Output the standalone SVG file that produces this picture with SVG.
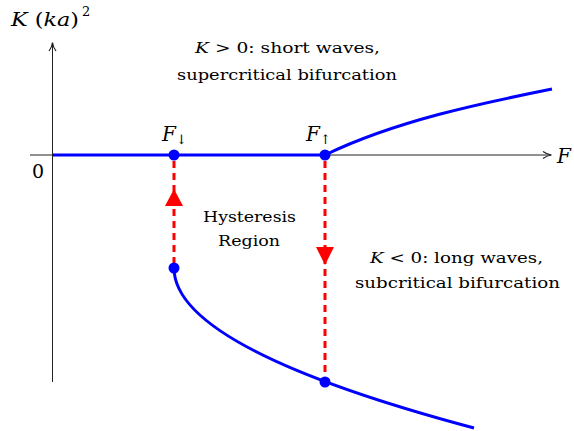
<svg xmlns="http://www.w3.org/2000/svg" width="574" height="431" viewBox="0 0 574 431">
<style>
text{font-family:'DejaVu Serif','Liberation Serif',serif;fill:#000}
.i{font-style:italic}
.axis{stroke:#222;stroke-width:1;fill:none}
.blue{stroke:#0000ff;stroke-width:3;fill:none}
.red{stroke:#ff0000;stroke-width:3;fill:none;stroke-dasharray:7 5}
.dot{fill:#0000ff}
.ah{fill:#ff0000}
</style>
<defs>
<marker id="ax" viewBox="0 0 10 10" refX="9" refY="5" markerWidth="10" markerHeight="10" markerUnits="userSpaceOnUse" orient="auto">
<path d="M1,1.5 Q5,4.5 9.5,5 Q5,5.5 1,8.5" fill="none" stroke="#222" stroke-width="1.2"/>
</marker>
</defs>
<g id="axes">
<line class="axis" x1="30" y1="155" x2="551" y2="155" marker-end="url(#ax)"/>
<line class="axis" x1="52.5" y1="382" x2="52.5" y2="43" marker-end="url(#ax)"/>
<text x="32" y="178" font-size="19">0</text>
<text class="i" x="557" y="163" font-size="20">F</text>
<text x="11" y="26" font-size="19" textLength="68" lengthAdjust="spacingAndGlyphs" xml:space="preserve"><tspan class="i">K</tspan> (<tspan class="i">ka</tspan>)</text>
<text x="82" y="16" font-size="13">2</text>
</g>
<g id="connectors">
<path class="blue" d="M53,155 H325"/>
<path class="blue" d="M325,155 C395,121 482,103 552,89"/>
<path class="blue" d="M174,268 Q174,348 474,428"/>
<path class="red" d="M174,161 V264"/>
<path class="red" d="M325,161 V378"/>
<path class="ah" d="M174,189 L183,206 L165,206 Z"/>
<path class="ah" d="M325,265 L334,247 L316,247 Z"/>
</g>
<g id="node-fdown">
<circle class="dot" cx="174" cy="155" r="5.5"/>
<text x="162" y="141" font-size="20"><tspan class="i">F</tspan><tspan font-size="13" dy="3">↓</tspan></text>
</g>
<g id="node-fup">
<circle class="dot" cx="325" cy="155" r="5.5"/>
<text x="306" y="141" font-size="20"><tspan class="i">F</tspan><tspan font-size="13" dy="3">↑</tspan></text>
</g>
<g id="node-low1">
<circle class="dot" cx="174" cy="268" r="5.5"/>
</g>
<g id="node-low2">
<circle class="dot" cx="325" cy="382" r="5.5"/>
</g>
<g id="labels" font-size="14.5">
<text x="195" y="53" textLength="185" lengthAdjust="spacingAndGlyphs"><tspan class="i">K</tspan> &gt; 0: short waves,</text>
<text x="177" y="80" textLength="220" lengthAdjust="spacingAndGlyphs">supercritical bifurcation</text>
<text x="203" y="222" textLength="93" lengthAdjust="spacingAndGlyphs">Hysteresis</text>
<text x="218" y="246" textLength="62" lengthAdjust="spacingAndGlyphs">Region</text>
<text x="370" y="263" textLength="173" lengthAdjust="spacingAndGlyphs"><tspan class="i">K</tspan> &lt; 0: long waves,</text>
<text x="355" y="288" textLength="205" lengthAdjust="spacingAndGlyphs">subcritical bifurcation</text>
</g>
</svg>
